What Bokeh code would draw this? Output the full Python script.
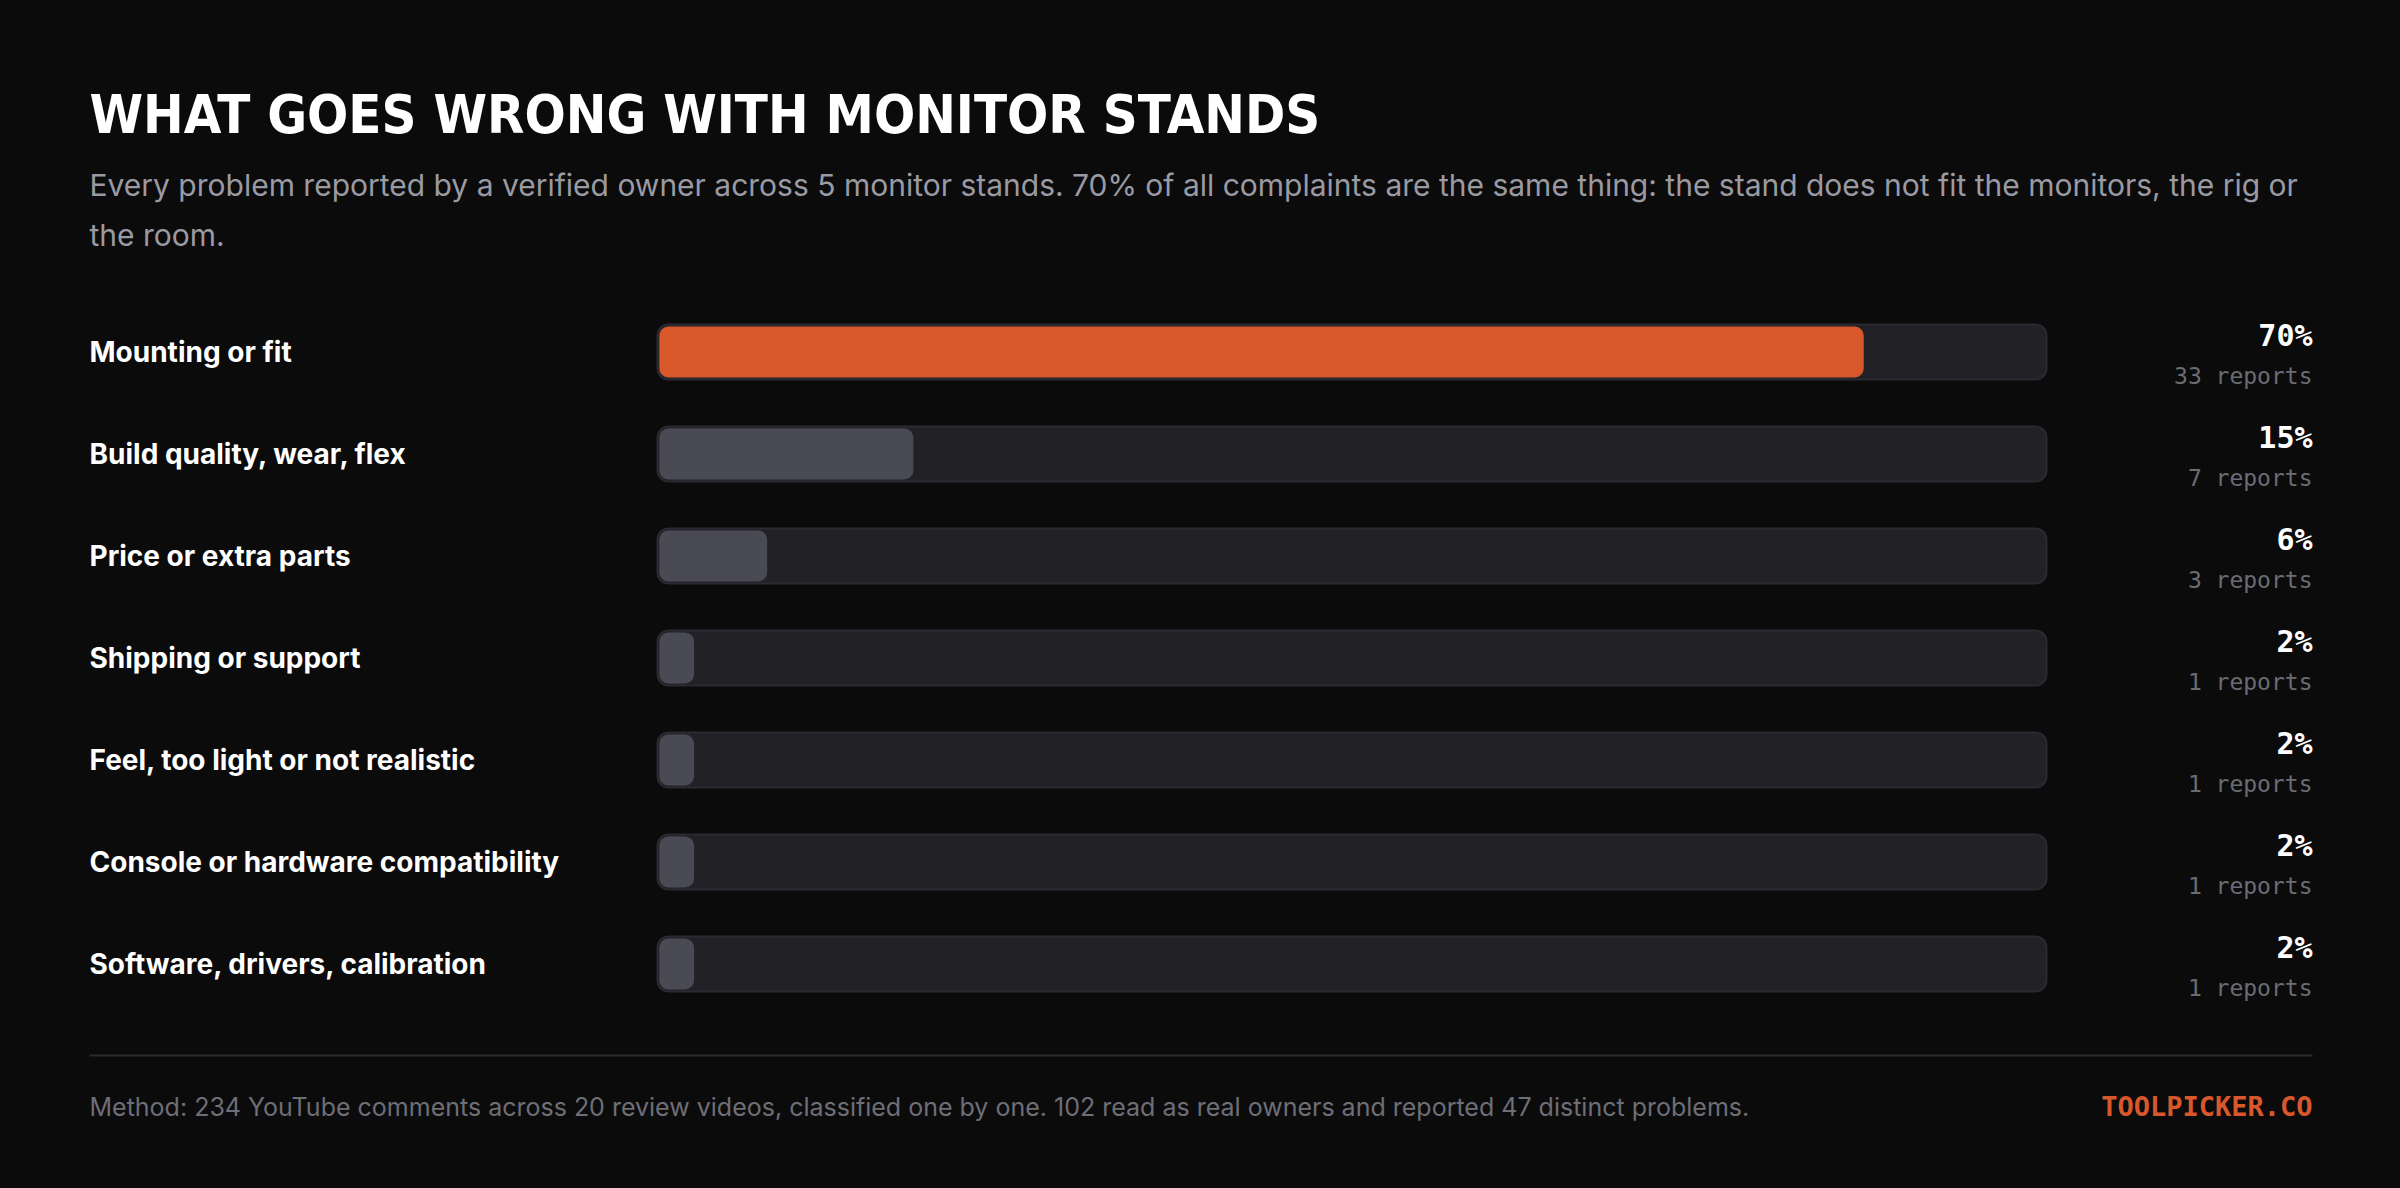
from bokeh.core.properties import value
from bokeh.embed import file_html
from bokeh.models import ColumnDataSource, GlobalInlineStyleSheet, Range1d
from bokeh.plotting import figure
from bokeh.resources import INLINE

# data
categories = [
    "Mounting or fit",
    "Build quality, wear, flex",
    "Price or extra parts",
    "Shipping or support",
    "Feel, too light or not realistic",
    "Console or hardware compatibility",
    "Software, drivers, calibration",
]
share_pct = [70, 15, 6, 2, 2, 2, 2]
report_counts = [33, 7, 3, 1, 1, 1, 1]
scale_max = 38  # reports at the right end of the track

title = "WHAT GOES WRONG WITH MONITOR STANDS"
subtitle = [
    "Every problem reported by a verified owner across 5 monitor stands. 70% of all complaints are the same thing: the stand does not fit the monitors, the rig or",
    "the room.",
]
footnote = "Method: 234 YouTube comments across 20 review videos, classified one by one. 102 read as real owners and reported 47 distinct problems."
brand = "TOOLPICKER.CO"

BG = "#0b0b0c"
ORANGE = "#d8582c"
W, H = 2400, 1188
LEFT, RIGHT = 89, 2312
TRACK_L, TRACK_R = 657, 2046
ROW0, ROW_STEP = 351.5, 102

# pixel-like x range for text, report-count range for the bars
px_per_unit = (TRACK_R - TRACK_L) / scale_max
count_range = Range1d(-TRACK_L / px_per_unit, (W - TRACK_L) / px_per_unit)

p = figure(width=W, height=H, x_range=Range1d(0, W), y_range=Range1d(H, 0),
           output_backend="svg", toolbar_location=None, min_border=0,
           background_fill_color=BG, border_fill_color=BG, outline_line_color=None)
p.extra_x_ranges = {"count": count_range}
p.axis.visible = False
p.grid.visible = False
p.stylesheets = [GlobalInlineStyleSheet(
    css="html, body { background: %s; margin: 0; padding: 0; overflow: hidden; }" % BG)]

rows = [ROW0 + i * ROW_STEP for i in range(len(categories))]
src = ColumnDataSource(dict(
    y=rows,
    cat=categories,
    n=report_counts,
    full=[scale_max] * len(categories),
    color=[ORANGE] + ["#4a4a54"] * (len(categories) - 1),
    pct_txt=["%d%%" % v for v in share_pct],
    rep_txt=["%d reports" % n for n in report_counts],
    y_pct=[r - 17 for r in rows],
    y_rep=[r + 24 for r in rows],
))

# tracks and bars
p.hbar(y="y", left=0, right="full", height=55, source=src, x_range_name="count",
       fill_color="#212126", line_color="#2a2a30", line_width=2, border_radius=11)
p.hbar(y="y", left=0.05, right="n", height=51, source=src, x_range_name="count",
       fill_color="color", line_color=None, border_radius=9)

# category labels
p.text(x=LEFT, y="y", text="cat", source=src, text_font=value("Inter"),
       text_font_style="bold", text_font_size="28px", text_color="#ffffff",
       text_baseline="middle", text_align="left")

# values on the right
p.text(x=RIGHT, y="y_pct", text="pct_txt", source=src, text_font=value("DejaVu Sans Mono"),
       text_font_style="bold", text_font_size="30px", text_color="#ffffff",
       text_baseline="middle", text_align="right")
p.text(x=RIGHT, y="y_rep", text="rep_txt", source=src, text_font=value("DejaVu Sans Mono"),
       text_font_size="23px", text_color="#6b6b73",
       text_baseline="middle", text_align="right")

# header
p.text(x=[LEFT], y=[114], text=[title], text_font=value("'DejaVu Sans Condensed', Inter"),
       text_font_style="bold", text_font_size="54px", text_color="#ffffff",
       text_baseline="middle", text_align="left")
p.text(x=[LEFT, LEFT], y=[184, 234], text=subtitle, text_font=value("Inter"),
       text_font_size="30px", text_color="#9a9aa3",
       text_baseline="middle", text_align="left")

# footer
p.segment(x0=[LEFT], x1=[RIGHT], y0=[1055], y1=[1055], line_color="#2a2a2f", line_width=2)
p.text(x=[LEFT], y=[1106], text=[footnote], text_font=value("Inter"),
       text_font_size="25px", text_color="#6e6e77",
       text_baseline="middle", text_align="left")
p.text(x=[RIGHT], y=[1106], text=[brand], text_font=value("DejaVu Sans Mono"),
       text_font_style="bold", text_font_size="27px", text_color=ORANGE,
       text_baseline="middle", text_align="right")

open("out.html", "w").write(file_html(p, INLINE))
